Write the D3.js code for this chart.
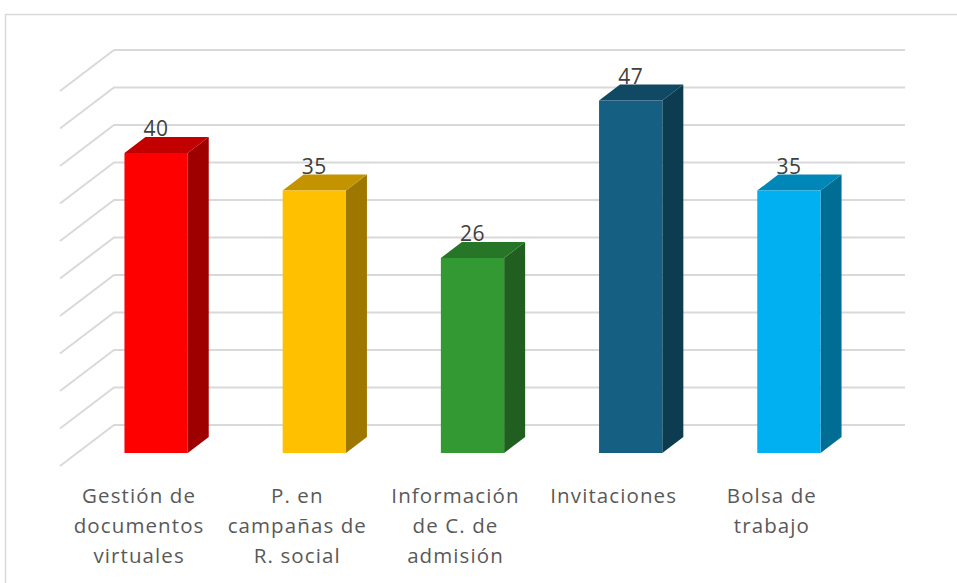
<!DOCTYPE html>
<html>
<head>
<meta charset="utf-8">
<script src="https://cdn.jsdelivr.net/npm/d3@7"></script>
<style>
  body { margin: 0; background: #fff; }
  svg { display: block; }
</style>
</head>
<body>
<div id="chart"></div>
<script>
// data
let categories = [
  ["Gestión de", "documentos", "virtuales"],
  ["P. en", "campañas de", "R. social"],
  ["Información", "de C. de", "admisión"],
  ["Invitaciones"],
  ["Bolsa de", "trabajo"]
];
let values = [40, 35, 26, 47, 35];
let frontColors = ["#FF0000", "#FFC000", "#339933", "#156082", "#00B0F0"];
let gridTicks = [0, 5, 10, 15, 20, 25, 30, 35, 40, 45, 50];

let width = 957, height = 583;

// oblique "3d" setup: floor depth offset and bar depth offset
let wallDx = 54, wallDy = -41;
let barDx = 21, barDy = -16;
let frontLeft = 60, frontRight = 851;

let y = d3.scaleLinear().domain([0, 50]).range([425, 50]);
let x = d3.scaleBand()
  .domain(d3.range(values.length))
  .range([frontLeft, frontRight]);

const svg = d3.select("#chart").append("svg")
  .attr("width", width)
  .attr("height", height);

// outer frame
svg.append("rect")
  .attr("x", 5.5).attr("y", 14.5)
  .attr("width", 970).attr("height", 600)
  .attr("fill", "none")
  .attr("stroke", "#d9d9d9")
  .attr("stroke-width", 1.5);

// gridlines: diagonal on the side wall, then flat on the back wall
const grid = svg.append("g")
  .attr("stroke", "#d9d9d9")
  .attr("stroke-width", 2)
  .attr("fill", "none");

grid.selectAll("path")
  .data(gridTicks)
  .join("path")
  .attr("d", d => {
    let yb = y(d);
    return `M${frontLeft},${yb - wallDy}L${frontLeft + wallDx},${yb}L${frontRight + wallDx},${yb}`;
  });

// bars
let barW = x.bandwidth() * 0.4;
let zOff = 17; // bars sit a bit behind the front plane
let yFront = v => y(v) + 28;

const bars = svg.append("g")
  .selectAll("g")
  .data(values)
  .join("g");

bars.each(function (v, i) {
  const g = d3.select(this);
  let c = d3.color(frontColors[i]);
  let x0 = x(i) + (x.bandwidth() - barW) / 2 + zOff;
  let x1 = x0 + barW;
  let yt = yFront(v), yb = yFront(0);

  // side face
  g.append("path")
    .attr("d", `M${x1},${yt}L${x1 + barDx},${yt + barDy}L${x1 + barDx},${yb + barDy}L${x1},${yb}Z`)
    .attr("fill", c.darker(1.35));
  // top face
  g.append("path")
    .attr("d", `M${x0},${yt}L${x0 + barDx},${yt + barDy}L${x1 + barDx},${yt + barDy}L${x1},${yt}Z`)
    .attr("fill", c.darker(0.75));
  // front face
  g.append("rect")
    .attr("x", x0).attr("y", yt)
    .attr("width", barW).attr("height", yb - yt)
    .attr("fill", c);

  g.append("text")
    .attr("x", (x0 + x1) / 2)
    .attr("y", yt + barDy - 1)
    .attr("text-anchor", "middle")
    .attr("fill", "#404040")
    .style("font", "21px 'Open Sans', sans-serif")
    .style("letter-spacing", "0.5px")
    .text(v);
});

// category labels
const labels = svg.append("g")
  .selectAll("text")
  .data(categories)
  .join("text")
  .attr("text-anchor", "middle")
  .attr("fill", "#595959")
  .style("font", "20.5px 'Open Sans', sans-serif")
  .style("letter-spacing", "1.1px");

labels.each(function (lines, i) {
  d3.select(this).selectAll("tspan")
    .data(lines)
    .join("tspan")
    .attr("x", x(i) + x.bandwidth() / 2)
    .attr("y", (d, j) => 503 + j * 30)
    .text(d => d);
});
</script>
</body>
</html>
